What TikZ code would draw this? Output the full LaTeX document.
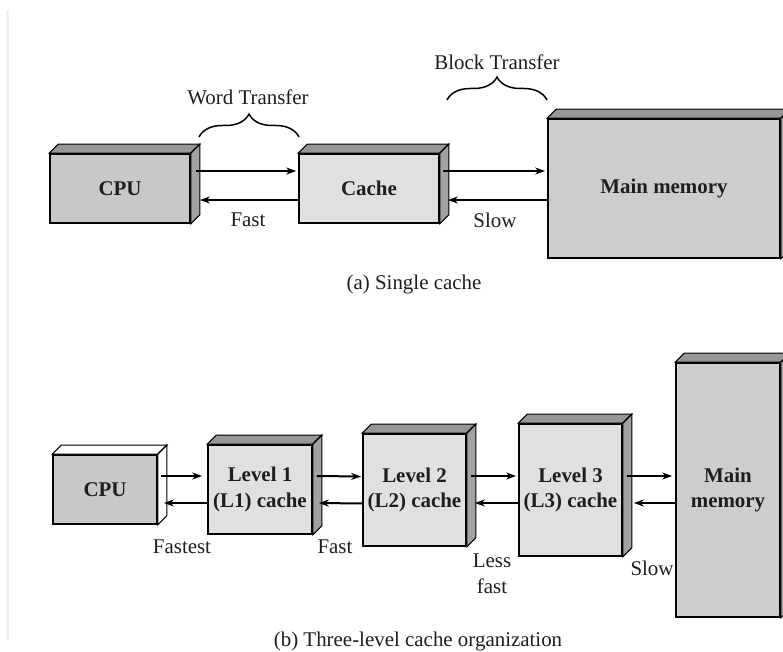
\documentclass[tikz,border=0pt]{standalone}
\usepackage{fontspec}
\setmainfont{Liberation Serif}
\usetikzlibrary{arrows.meta,calc,decorations.pathreplacing}
\definecolor{darkface}{HTML}{C8C8C8}
\definecolor{lightface}{HTML}{E0E0E0}
\definecolor{topface}{HTML}{979797}
\definecolor{sideface}{HTML}{A2A2A2}
\definecolor{txt}{HTML}{1E1E1E}
\definecolor{pagepink}{HTML}{F6EDF0}
\newcommand\drawcube[3]{%
  \filldraw[face,fill=#2] (#1.north west) -- ++(9,-9) -- ([shift={(9,-9)}]#1.north east) -- (#1.north east) -- cycle;
  \filldraw[face,fill=#3] (#1.north east) -- ++(9,-9) -- ([shift={(9,-9)}]#1.south east) -- (#1.south east) -- cycle;
}
\tikzset{
  unit/.style={draw=black,line width=1.7bp,rectangle,inner sep=0pt,text=txt,
    font=\fontsize{21}{26}\selectfont\bfseries,align=center},
  face/.style={draw=black,line width=1.1bp,line join=miter},
  arr/.style={line width=2bp,-{Stealth[length=10bp,width=7bp]}},
  lbl/.style={text=txt,font=\fontsize{21}{26}\selectfont,inner sep=0pt,align=center},
  curly/.style={decorate,decoration={brace,amplitude=23bp,aspect=0.5},line width=1.5bp}
}
\begin{document}
\begin{tikzpicture}[x=1bp,y=-1bp]
\useasboundingbox (0,0) rectangle (783,652);
\fill[white] (0,0) rectangle (783,652);
\draw[pagepink,line width=3bp] (7,10) -- (7,640);

% (a) single cache
\node[unit,fill=darkface,minimum width=140bp,minimum height=69bp] (cpu) at (120,188.5) {CPU};
\drawcube{cpu}{topface}{sideface}
\node[unit,fill=lightface,minimum width=140bp,minimum height=69bp] (cache) at (369,188.5) {Cache};
\drawcube{cache}{topface}{sideface}
\node[unit,fill=darkface!90!white,minimum width=232bp,minimum height=139bp] (mem) at (664,188.5) {Main memory};
\drawcube{mem}{topface}{sideface}

\draw[arr] ([shift={(5,-17.5)}]cpu.east) -- ([shift={(-2,-17.5)}]cache.west);
\draw[arr] ([shift={(0,11.5)}]cache.west) -- ([shift={(9,11.5)}]cpu.east);
\draw[arr] ([shift={(3,-17.5)}]cache.east) -- ([shift={(-2,-17.5)}]mem.west);
\draw[arr] ([shift={(0,11.5)}]mem.west) -- ([shift={(8,11.5)}]cache.east);

\coordinate (wb1) at (199,137);
\coordinate (wb2) at (299,137);
\draw[curly] (wb1) -- (wb2);
\node[lbl] (word) at (248,97) {Word Transfer};
\coordinate (bb1) at (447,100);
\coordinate (bb2) at (547,100);
\draw[curly] (bb1) -- (bb2);
\node[lbl] (block) at (497,62) {Block Transfer};
\node[lbl] (fast) at (248,220) {Fast};
\node[lbl] (slow) at (495,220) {Slow};
\node[lbl] (capa) at (414,284) {(a) Single cache};

% (b) three-level
\node[unit,fill=darkface,minimum width=104bp,minimum height=69bp] (cpu2) at (105,489.5) {CPU};
\drawcube{cpu2}{white}{white}
\node[unit,fill=lightface,minimum width=104bp,minimum height=89bp] (l1) at (260,489.5) {Level 1\\(L1) cache};
\drawcube{l1}{topface}{sideface}
\node[unit,fill=lightface,minimum width=103bp,minimum height=112bp] (l2) at (414.5,490) {Level 2\\(L2) cache};
\drawcube{l2}{topface}{sideface}
\node[unit,fill=lightface,minimum width=103bp,minimum height=132bp] (l3) at (570.5,490) {Level 3\\(L3) cache};
\drawcube{l3}{topface}{sideface}
\node[unit,fill=darkface!90!white,minimum width=104bp,minimum height=254bp] (mem2) at (728,490) {Main\\memory};
\drawcube{mem2}{topface}{sideface}

\draw[arr] ([shift={(3,-13.5)}]cpu2.east) -- ([shift={(-5,-13.5)}]l1.west);
\draw[arr] ([shift={(0,13.5)}]l1.west) -- ([shift={(6,13.5)}]cpu2.east);
\draw[arr] ([shift={(4,-13.5)}]l1.east) -- ([shift={(-1,-13.5)}]l2.west);
\draw[arr] ([shift={(0,13.5)}]l2.west) -- ([shift={(6,13.5)}]l1.east);
\draw[arr] ([shift={(4,-14)}]l2.east) -- ([shift={(-2,-14)}]l3.west);
\draw[arr] ([shift={(0,13)}]l3.west) -- ([shift={(8,13)}]l2.east);
\draw[arr] ([shift={(4,-14)}]l3.east) -- ([shift={(-3,-14)}]mem2.west);
\draw[arr] ([shift={(0,13)}]mem2.west) -- ([shift={(11,13)}]l3.east);

\node[lbl] (fastest) at (182,547) {Fastest};
\node[lbl] (fast2) at (335,547) {Fast};
\node[lbl] (lessfast) at (492,573.5) {Less\\fast};
\node[lbl] (slow2) at (652,568) {Slow};
\node[lbl] (capb) at (418,641) {(b) Three-level cache organization};
\end{tikzpicture}
\end{document}
